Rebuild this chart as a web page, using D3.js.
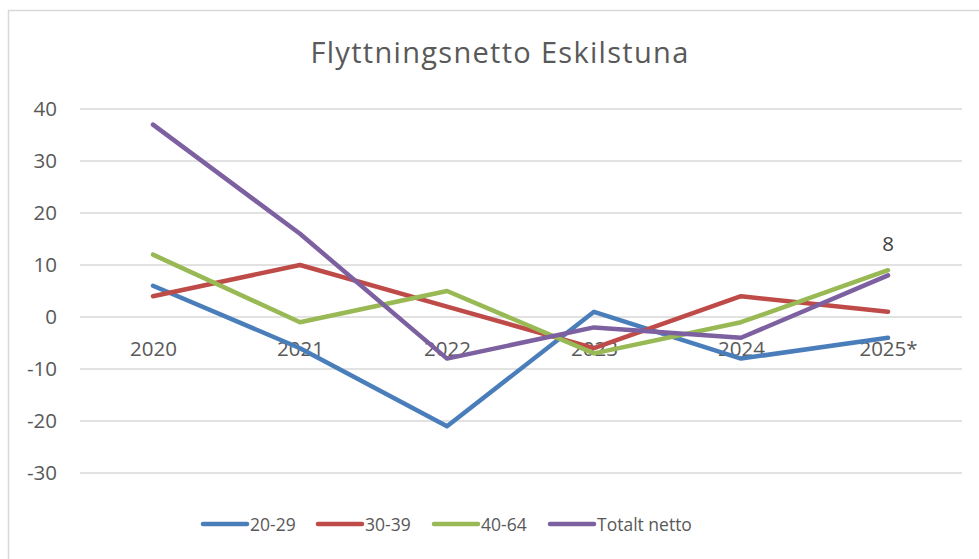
<!DOCTYPE html>
<html><head><meta charset="utf-8">
<script src="https://cdn.jsdelivr.net/npm/d3@7"></script>
<style>body{margin:0;background:#fff}svg{display:block}</style>
</head><body><svg id="c" width="979" height="559"></svg>
<script>
const categories = ["2020","2021","2022","2023","2024","2025*"];
const seriesNames = ["20-29","30-39","40-64","Totalt netto"];
const v2029 = [6, -6, -21, 1, -8, -4];
const v3039 = [4, 10, 2, -6, 4, 1];
const v4064 = [12, -1, 5, -7, -1, 9];
const vTotal = [37, 16, -8, -2, -4, 8];
const colors = ["#4a7ebb", "#be4b48", "#98b954", "#7d60a0"];
const yTicks = [40, 30, 20, 10, 0, -10, -20, -30];
const title = "Flyttningsnetto Eskilstuna";
const lastLabel = "8";

const series = [v2029, v3039, v4064, vTotal];
const svg = d3.select("#c");
const font = "'Open Sans', sans-serif";
const tc = "#595959";

svg.append("path").attr("d","M8.5,600 V10.5 H990").attr("fill","none").attr("stroke","#d9d9d9").attr("stroke-width",1.5);

svg.append("text").attr("x",500).attr("y",63).attr("text-anchor","middle")
  .attr("font-family",font).attr("font-size",29).attr("letter-spacing",1.3).attr("fill",tc).text(title);

const x = d3.scalePoint().domain(categories).range([153, 888]);
const y = d3.scaleLinear().domain([-30, 40]).range([473, 109]);

const grid = svg.append("g");
yTicks.forEach(t => {
  grid.append("line").attr("x1",80).attr("x2",962).attr("y1",y(t)).attr("y2",y(t))
    .attr("stroke","#d9d9d9").attr("stroke-width",1.3);
});

const yAxis = svg.append("g").attr("transform","translate(80,0)")
  .call(d3.axisLeft(y).tickValues(yTicks).tickSize(0).tickPadding(23).tickFormat(d => d < 0 ? "-" + Math.abs(d) : String(d)));
yAxis.select(".domain").remove();
yAxis.selectAll("text").attr("font-family",font).attr("font-size",20.5).attr("fill",tc);

const xAxis = svg.append("g").attr("transform",`translate(0,${y(0)})`)
  .call(d3.axisBottom(x).tickSize(0).tickPadding(24));
xAxis.select(".domain").remove();
xAxis.selectAll("text").attr("font-family",font).attr("font-size",20.5).attr("fill",tc);

const line = d3.line().x((d,i)=>x(categories[i])).y(d=>y(d));
series.forEach((s,k)=>{
  svg.append("path").datum(s).attr("d",line).attr("fill","none")
    .attr("stroke",colors[k]).attr("stroke-width",4.5).attr("stroke-linejoin","round").attr("stroke-linecap","round");
});

svg.append("text").attr("x",x(categories[5])).attr("y",y(vTotal[5])-24.5).attr("text-anchor","middle")
  .attr("font-family",font).attr("font-size",20.5).attr("fill","#404040").text(lastLabel);

const lx = [201, 316, 432, 548];
seriesNames.forEach((n,k)=>{
  svg.append("line").attr("x1",lx[k]+2).attr("x2",lx[k]+46).attr("y1",524).attr("y2",524)
    .attr("stroke",colors[k]).attr("stroke-width",4.5).attr("stroke-linecap","round");
  svg.append("text").attr("x",lx[k]+49).attr("y",530.5).attr("font-family",font).attr("font-size",17.5)
    .attr("fill",tc).text(n);
});
</script></body></html>
